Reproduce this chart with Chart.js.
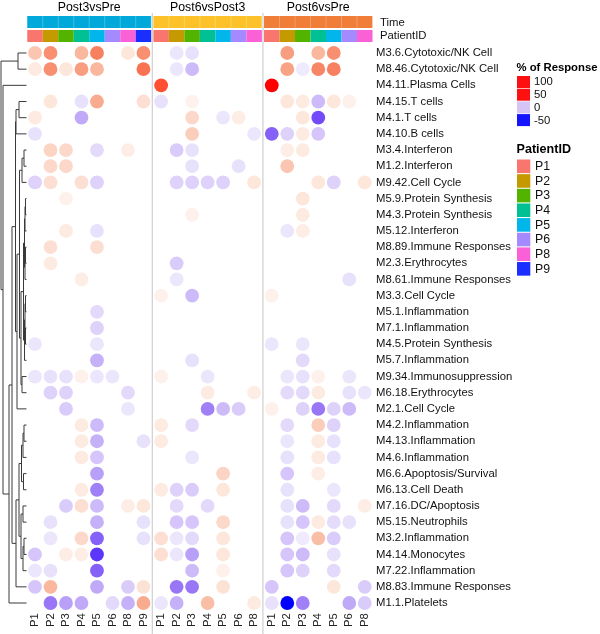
<!DOCTYPE html>
<html><head><meta charset="utf-8">
<script src="https://cdn.jsdelivr.net/npm/chart.js@4/dist/chart.umd.min.js"></script>
<style>html,body{margin:0;padding:0;background:#fff}canvas{display:block}</style>
</head><body>
<canvas id="c" width="600" height="634"></canvas>
<script>
const _ = null;
const modules = ["M3.6.Cytotoxic/NK Cell","M8.46.Cytotoxic/NK Cell","M4.11.Plasma Cells","M4.15.T cells","M4.1.T cells","M4.10.B cells","M3.4.Interferon","M1.2.Interferon","M9.42.Cell Cycle","M5.9.Protein Synthesis","M4.3.Protein Synthesis","M5.12.Interferon","M8.89.Immune Responses","M2.3.Erythrocytes","M8.61.Immune Responses","M3.3.Cell Cycle","M5.1.Inflammation","M7.1.Inflammation","M4.5.Protein Synthesis","M5.7.Inflammation","M9.34.Immunosuppression","M6.18.Erythrocytes","M2.1.Cell Cycle","M4.2.Inflammation","M4.13.Inflammation","M4.6.Inflammation","M6.6.Apoptosis/Survival","M6.13.Cell Death","M7.16.DC/Apoptosis","M5.15.Neutrophils","M3.2.Inflammation","M4.14.Monocytes","M7.22.Inflammation","M8.83.Immune Responses","M1.1.Platelets"];
const timePoints = ["Post3vsPre","Post6vsPost3","Post6vsPre"];
const patientsPost3vsPre = ["P1","P2","P3","P4","P5","P6","P8","P9"];
const patientsPost6vsPost3 = ["P1","P2","P3","P4","P5","P6","P8"];
const patientsPost6vsPre = ["P1","P2","P3","P4","P5","P6","P8"];
const legendValues = [100, 50, 0, -50];
const legendPatients = ["P1","P2","P3","P4","P5","P6","P8","P9"];

// % of response, rows = modules, cols = patients
const post3vsPre = [
[25,45,_,30,50,_,12,45],
[10,45,12,40,30,_,_,55],
[_,_,_,_,_,_,_,_],
[_,12,_,-12,35,_,_,15],
[10,_,_,-30,_,_,_,_],
[-12,_,_,_,_,_,_,_],
[_,20,18,_,-15,_,8,_],
[_,18,18,_,_,_,_,_],
[-18,15,_,15,-18,_,_,_],
[_,_,6,_,_,_,_,_],
[_,_,_,_,_,_,_,_],
[_,_,10,_,-12,_,_,_],
[_,15,_,_,15,_,_,_],
[_,10,_,_,_,_,_,_],
[_,_,_,8,_,_,_,_],
[_,_,_,_,_,_,_,_],
[_,_,_,_,-15,_,_,_],
[_,_,_,_,-18,_,_,_],
[-10,_,_,_,-10,_,_,_],
[_,_,_,_,-28,_,_,_],
[-10,-12,-12,6,-10,-10,_,_],
[_,-18,-18,_,_,_,-15,_],
[_,_,-20,_,_,_,-10,_],
[_,_,_,10,-25,_,_,_],
[_,_,_,10,-28,_,_,-12],
[_,_,_,10,-22,_,_,_],
[_,_,_,_,-32,_,_,_],
[_,_,_,10,-38,_,_,_],
[_,_,-20,15,-25,_,8,12],
[_,-12,_,_,-28,_,_,-12],
[_,-10,_,18,-45,_,_,-12],
[-22,_,8,8,-55,_,_,_],
[-10,-12,_,_,-45,_,_,_],
[-22,30,_,_,-30,_,-20,14],
[_,-40,-32,-30,_,-15,-28,35]
];
const post6vsPost3 = [
[_,-10,-12,_,_,_,_],
[_,-10,-25,_,_,_,_],
[80,_,_,_,_,_,_],
[-12,_,5,_,_,_,_],
[_,_,18,_,-10,8,_],
[_,_,22,_,_,_,-10],
[_,-20,-12,_,_,_,_],
[_,_,-12,_,_,-12,_],
[_,-18,-18,-18,-18,_,12],
[_,_,_,_,_,_,_],
[_,_,6,_,_,_,_],
[_,_,_,_,_,_,_],
[_,_,_,_,_,_,_],
[_,-20,_,_,_,_,_],
[_,-10,_,_,_,_,_],
[6,_,-25,_,_,_,_],
[_,_,_,_,_,_,_],
[_,_,_,_,_,_,_],
[_,_,_,_,_,_,_],
[_,_,-12,_,_,_,_],
[6,_,_,-10,_,_,_],
[_,_,_,10,_,_,8],
[_,_,_,-38,-25,-20,_],
[10,_,-15,_,_,_,_],
[10,_,_,_,_,_,_],
[_,_,-10,_,_,_,_],
[_,_,_,_,20,_,_],
[10,-18,-20,_,12,_,_],
[_,-15,_,-15,_,_,_],
[_,-22,-22,_,18,_,_],
[15,-10,-15,_,12,_,_],
[15,-10,-32,_,12,_,_],
[_,_,-25,_,6,_,_],
[_,-40,-40,_,14,_,_],
[-10,-28,_,28,_,_,10]
];
const post6vsPre = [
[_,40,_,30,45,_,_],
[_,38,-8,48,50,_,_],
[100,_,_,_,_,_,_],
[_,12,10,-25,12,6,_],
[_,_,12,-50,_,_,_],
[-45,-18,10,-22,_,_,_],
[_,8,10,_,_,_,_],
[_,25,_,_,_,_,_],
[_,_,_,12,-18,_,12],
[_,_,12,_,_,_,_],
[_,_,10,_,_,_,_],
[_,-10,8,_,_,_,_],
[_,_,_,_,_,_,_],
[_,_,_,_,_,_,_],
[_,_,_,_,_,-12,_],
[6,_,_,_,_,_,_],
[_,_,_,_,_,_,_],
[_,_,_,_,_,_,_],
[-10,_,-10,_,_,_,_],
[_,_,-15,_,_,_,_],
[_,-10,-12,6,_,-10,_],
[_,-15,-15,10,_,-12,-10],
[6,_,-18,-40,-18,-25,_],
[_,-15,_,22,-18,_,_],
[_,-10,_,10,-12,_,_],
[_,-12,_,10,-12,_,_],
[_,-22,_,8,_,_,_],
[_,-12,_,_,-10,_,_],
[_,-12,-25,_,-15,_,8],
[_,-12,-22,10,-14,-12,_],
[_,-22,-8,28,-20,_,_],
[_,-22,-25,_,-12,_,_],
[_,-22,-18,_,-15,_,_],
[-22,_,_,_,12,_,-20],
[-12,-70,-38,_,_,-30,-20]
];
// dendrogram merges: [left, right, height]; numbers = leaf rows, strings = earlier merges
const dendroMerges = [
[0,1,8.5],[3,4,7.5],["n1",5,10.5],
[6,7,2.5],["n3",8,4.5],[9,10,1],["n5",11,1.5],[12,13,1],["n7",14,1.5],["n6","n8",2],
[15,16,1],[17,18,1],["n10","n11",1.5],["n12",19,2],["n9","n13",3],[20,21,4.5],["n14","n15",5.5],
["n4","n16",7],["n17",22,9.5],["n2","n18",11],
[23,24,2.5],["n20",25,3.5],[26,27,3],["n21","n22",5],[28,29,3.5],[30,31,2.5],["n25",32,3.5],
["n24","n26",5.5],["n23","n27",7.5],["n28",33,10.5],
["n19","n29",14.5],["n30",34,17.5],[2,"n31",23.5],["n0","n32",25.5]
];

const patientColors = {P1:"#F8766D",P2:"#C49A00",P3:"#53B400",P4:"#00C094",P5:"#00B6EB",P6:"#A58AFF",P8:"#FB61D7",P9:"#1A2EFF"};
const timeColors = ["#00A9DA","#FDC22A","#F07D38"];

const panelData = [post3vsPre, post6vsPost3, post6vsPre];
const panelPatients = [patientsPost3vsPre, patientsPost6vsPost3, patientsPost6vsPre];
const GAP = 0.14;
const panelStart = [0, 8, 15];
function colX(p, j){ return panelStart[p] + j + p*GAP; }

const posStops = [[0,[255,250,248]],[10,[253,234,224]],[20,[251,212,196]],[30,[249,184,158]],[40,[248,158,128]],[50,[246,128,96]],[60,[250,100,70]],[80,[255,80,50]],[100,[255,0,0]]];
const negStops = [[0,[250,248,255]],[10,[236,230,252]],[20,[218,204,250]],[30,[192,170,248]],[40,[152,118,246]],[50,[115,75,248]],[60,[70,35,250]],[70,[0,0,255]]];
function ramp(stops, a){
  if(a>=stops[stops.length-1][0]) return stops[stops.length-1][1];
  for(let i=1;i<stops.length;i++){
    if(a<=stops[i][0]){
      const [a0,c0]=stops[i-1],[a1,c1]=stops[i];const t=(a-a0)/(a1-a0);
      return c0.map((v,k)=>Math.round(v+(c1[k]-v)*t));
    }
  }
}
function colorFor(v){ const c = v>=0 ? ramp(posStops, v) : ramp(negStops, -v); return `rgb(${c[0]},${c[1]},${c[2]})`; }

const datasets = panelData.map((tbl,p)=>{
  const pts=[], cols=[];
  tbl.forEach((row,i)=>row.forEach((v,j)=>{ if(v!==null){ pts.push({x:colX(p,j),y:i,v}); cols.push(colorFor(v)); } }));
  return {label:timePoints[p], data:pts, backgroundColor:cols, borderWidth:0, pointRadius:6.9, pointHoverRadius:6.9};
});

const colTicks=[], colLabels=[];
panelPatients.forEach((pp,p)=>pp.forEach((lab,j)=>{colTicks.push(colX(p,j)); colLabels.push(lab);}));

const FONT = "'Liberation Sans', Arial, sans-serif";
const AREA = {left:27.25, right:372.5, top:44.9, bottom:611.1};

const decor = {
  id:'decor',
  afterDatasetsDraw(chart){
    const ctx=chart.ctx, xs=chart.scales.x, ys=chart.scales.y;
    ctx.save();
    const ext = [0,1,2].map(p=>[xs.getPixelForValue(colX(p,0)-0.5), xs.getPixelForValue(colX(p,panelPatients[p].length-1)+0.5)]);
    ctx.strokeStyle='#cfcfcf'; ctx.lineWidth=1.2;
    for(let p=0;p<2;p++){ const x=(ext[p][1]+ext[p+1][0])/2; ctx.beginPath(); ctx.moveTo(x,13); ctx.lineTo(x,634); ctx.stroke(); }
    for(let p=0;p<3;p++){
      ctx.fillStyle=timeColors[p]; ctx.fillRect(ext[p][0],16,ext[p][1]-ext[p][0],12);
      panelPatients[p].forEach((lab,j)=>{
        const x0=xs.getPixelForValue(colX(p,j)-0.5), x1=xs.getPixelForValue(colX(p,j)+0.5);
        ctx.fillStyle=patientColors[lab]; ctx.fillRect(x0,30,x1-x0,12);
        ctx.strokeStyle='rgba(255,255,255,0.25)'; ctx.lineWidth=1; ctx.beginPath(); ctx.moveTo(x1,16); ctx.lineTo(x1,28); ctx.stroke();
      });
      ctx.fillStyle='#000'; ctx.font=`12.3px ${FONT}`; ctx.textAlign='center'; ctx.textBaseline='middle';
      ctx.fillText(timePoints[p],(ext[p][0]+ext[p][1])/2,7.5);
    }
    ctx.font=`11.3px ${FONT}`; ctx.textAlign='left'; ctx.fillStyle='#111';
    ctx.fillText('Time',380,22.5); ctx.fillText('PatientID',380,36);
    // dendrogram
    const leafX=26.5, nodes={};
    const pos=(k)=> typeof k==='number' ? {x:leafX,y:ys.getPixelForValue(k)} : nodes[k];
    ctx.strokeStyle='#3a3a3a'; ctx.lineWidth=1;
    dendroMerges.forEach((m,i)=>{
      const a=pos(m[0]), b=pos(m[1]); const x=leafX-m[2];
      ctx.beginPath(); ctx.moveTo(a.x,a.y); ctx.lineTo(x,a.y); ctx.lineTo(x,b.y); ctx.lineTo(b.x,b.y); ctx.stroke();
      nodes['n'+i]={x,y:(a.y+b.y)/2};
    });
    // legend: % of Response
    ctx.fillStyle='#000'; ctx.font=`bold 11.3px ${FONT}`; ctx.textAlign='left';
    ctx.fillText('% of Response',516.5,68.3);
    const lg=[ 'rgb(255,16,16)','rgb(255,16,16)','rgb(214,196,246)','rgb(20,20,255)'];
    ctx.font=`11.3px ${FONT}`;
    legendValues.forEach((v,i)=>{ const y=76+i*12.7; ctx.fillStyle=lg[i]; ctx.fillRect(517,y,13,12); ctx.fillStyle='#111'; ctx.fillText(String(v),534,y+6.3); });
    ctx.fillStyle='#000'; ctx.font=`bold 12.6px ${FONT}`;
    ctx.fillText('PatientID',516.5,149.5);
    ctx.font=`12.3px ${FONT}`;
    legendPatients.forEach((lab,i)=>{ const y=159.5+i*14.65; ctx.fillStyle=patientColors[lab]; ctx.fillRect(517,y,13.3,13.6); ctx.fillStyle='#111'; ctx.fillText(lab,535,y+7.2); });
    ctx.restore();
  }
};

new Chart(document.getElementById('c'), {
  type:'scatter',
  data:{datasets},
  options:{
    responsive:false, animation:false, devicePixelRatio:1,
    layout:{padding:{left:AREA.left, top:AREA.top, right:0, bottom:0}},
    plugins:{legend:{display:false}, tooltip:{enabled:false}},
    events:[],
    scales:{
      x:{type:'linear', min:-0.5, max:colX(2,6)+0.5, grid:{display:false, drawTicks:false}, border:{display:false},
        afterBuildTicks(s){ s.ticks = colTicks.map(v=>({value:v})); },
        afterFit(s){ s.height = 634-AREA.bottom; },
        ticks:{autoSkip:false, minRotation:90, maxRotation:90, padding:2, color:'#222', font:{family:FONT,size:11.3},
          callback:(v,i)=>colLabels[i]}},
      y:{type:'linear', position:'right', reverse:true, min:-0.5, max:modules.length-0.5, grid:{display:false, drawTicks:false}, border:{display:false},
        afterBuildTicks(s){ s.ticks = modules.map((m,i)=>({value:i})); },
        afterFit(s){ s.width = 600-AREA.right; },
        ticks:{autoSkip:false, padding:3.5, color:'#111', font:{family:FONT,size:11.3}, callback:(v,i)=>modules[i]}}
    }
  },
  plugins:[decor]
});
</script>
</body></html>
